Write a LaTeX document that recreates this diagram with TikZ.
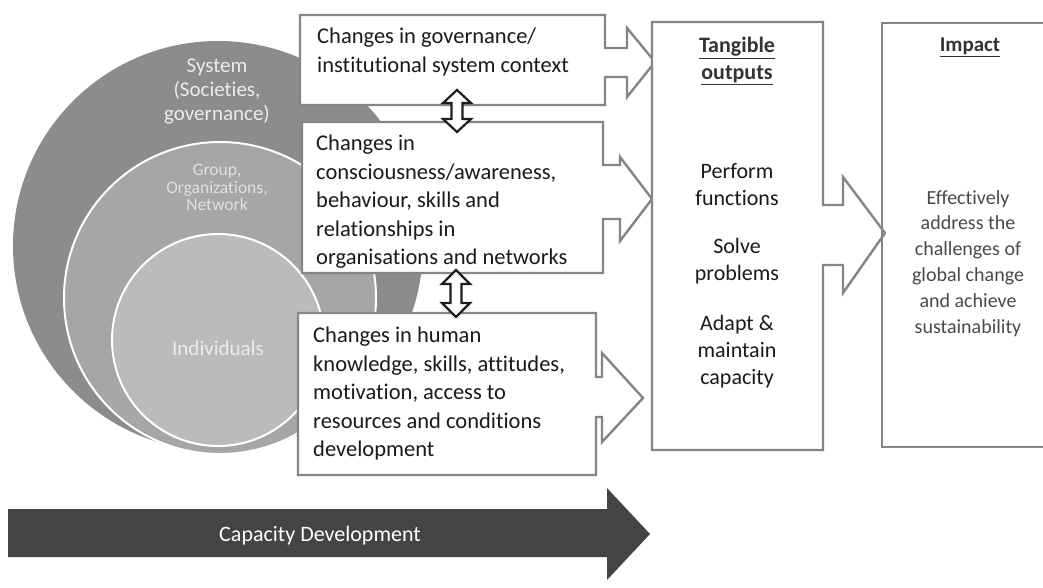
\documentclass[tikz,border=0pt]{standalone}
\usepackage{fontspec}
\setmainfont{Carlito}[Ligatures=NoCommon]
\definecolor{sysgray}{HTML}{8C8C8C}
\definecolor{grpgray}{HTML}{A6A6A6}
\definecolor{indgray}{HTML}{BBBBBB}
\definecolor{boxgray}{HTML}{858585}
\definecolor{arrowdark}{HTML}{1E1E1E}
\definecolor{capgray}{HTML}{444444}
\definecolor{textdark}{HTML}{1A1A1A}
\definecolor{impacttext}{HTML}{4A4A4A}
\definecolor{circtext}{HTML}{EBEBEB}
\begin{document}
\begin{tikzpicture}[x=1pt,y=-1pt,
  boxshape/.style={draw=boxgray, line width=2.4pt, fill=white, line join=miter},
  dblarrow/.style={draw=arrowdark, line width=2.2pt, fill=white, line join=miter},
  boxtext/.style={anchor=north west, inner sep=0pt, align=left, text=textdark, font=\fontsize{22.5}{28.5}\selectfont},
  ctext/.style={anchor=north, inner sep=0pt, align=center, text=textdark, font=\fontsize{22}{27}\selectfont},
  circlabel/.style={inner sep=0pt, align=center, text=circtext}
]
\useasboundingbox (0,0) rectangle (1043,588);
\fill[white] (0,0) rectangle (1043,588);

% nested circles
\fill[sysgray] (218,246) circle (205pt);
\draw[white, line width=2pt, fill=grpgray] (220,298) circle (156pt);
\draw[white, line width=2pt, fill=indgray] (218,340) circle (106pt);

\node[circlabel, anchor=north, font=\fontsize{21}{24}\selectfont] (sys) at (217,59) {System\\(Societies,\\governance)};
\node[circlabel, anchor=north, font=\fontsize{17.5}{17.5}\selectfont, text=white!88!black] (grp) at (217,164) {Group,\\Organizations,\\Network};
\node[circlabel, anchor=base, font=\fontsize{21}{24}\selectfont] (ind) at (218,355) {Individuals};

% change boxes with arrow heads
\draw[boxshape] (300,15) -- (605,15) -- (605,48) -- (627,48) -- (627,28) -- (655,62) -- (627,97) -- (627,77) -- (605,77) -- (605,105) -- (300,105) -- cycle;
\draw[boxshape] (302,122) -- (603,122) -- (603,165) -- (620,165) -- (620,157) -- (652,199) -- (620,241) -- (620,219) -- (603,219) -- (603,273) -- (302,273) -- cycle;
\draw[boxshape] (298,313) -- (596,313) -- (596,377) -- (602,377) -- (602,353) -- (643,398) -- (602,442) -- (602,417) -- (596,417) -- (596,475) -- (298,475) -- cycle;

% tangible outputs box
\draw[boxshape] (652,22) -- (823,22) -- (823,205) -- (843,205) -- (843,177) -- (885,233) -- (843,293) -- (843,265) -- (823,265) -- (823,450) -- (652,450) -- cycle;

% impact box (runs off the right edge)
\draw[boxshape, fill=none] (1043,23) -- (882,23) -- (882,447) -- (1043,447);

% double arrows between boxes
\draw[dblarrow] (457,90) -- (471,103) -- (462.5,103) -- (462.5,119) -- (471,119) -- (457,132) -- (443,119) -- (451.5,119) -- (451.5,103) -- (443,103) -- cycle;
\draw[dblarrow] (456,270) -- (470,284) -- (461.5,284) -- (461.5,303) -- (470,303) -- (456,317) -- (442,303) -- (450.5,303) -- (450.5,284) -- (442,284) -- cycle;

% texts
\node[boxtext] (gov) at (317,28) {Changes in governance/\\institutional system context};
\node[boxtext] (org) at (316,135) {Changes in\\consciousness/awareness,\\behaviour, skills and\\relationships in\\organisations and networks};
\node[boxtext] (hum) at (313,327) {Changes in human\\knowledge, skills, attitudes,\\motivation, access to\\resources and conditions\\development};

\node[ctext, text=black!80] (tang) at (737,37) {\textbf{\underline{Tangible}}\\\textbf{\underline{outputs}}};
\node[ctext] (perf) at (737,163) {Perform\\functions};
\node[ctext] (solve) at (737,238) {Solve\\problems};
\node[ctext] (adapt) at (737,315) {Adapt \&\\maintain\\capacity};

\node[ctext, text=black!80, font=\fontsize{21}{25}\selectfont] (imp) at (970,38) {\textbf{\underline{Impact}}};
\node[ctext, text=impacttext, font=\fontsize{20}{25.8}\selectfont] (eff) at (968,190) {Effectively\\address the\\challenges of\\global change\\and achieve\\sustainability};

% capacity development arrow
\fill[capgray] (8,509) -- (607,509) -- (607,488) -- (650,534) -- (607,580) -- (607,557) -- (8,557) -- cycle;
\node[anchor=base, inner sep=0pt, text=white, font=\fontsize{22}{26}\selectfont] (cap) at (320,541) {Capacity Development};
\end{tikzpicture}
\end{document}
